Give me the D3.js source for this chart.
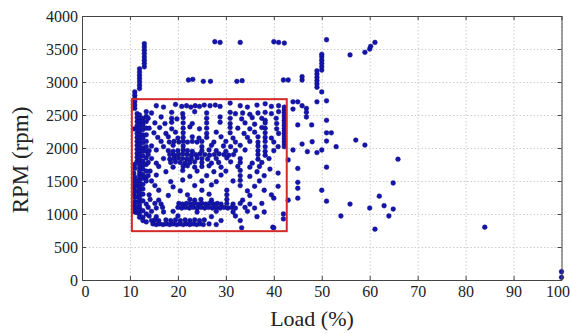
<!DOCTYPE html>
<html>
<head>
<meta charset="utf-8">
<script src="https://d3js.org/d3.v7.min.js"></script>
<style>
  body { margin: 0; background: #fff; }
  text { font-family: "Liberation Serif", "Times New Roman", serif; fill: #222; }
  .grid line { stroke: #cdcdcd; stroke-dasharray: 1.5 2; }
  .grid path { display: none; }
  .axis path, .axis line { stroke: #444; }
</style>
</head>
<body>
<div id="chart"></div>
<script>
// ---- data (Load %, RPM) ----
const xTicks = [0, 10, 20, 30, 40, 50, 60, 70, 80, 90, 100];
const yTicks = [0, 500, 1000, 1500, 2000, 2500, 3000, 3500, 4000];

// highlighted operating window
const boxLoad = [10.4, 42.7];
const boxRpm = [740, 2740];

// left columns near 11-13 % load
const leftColumns = [
  [11.0,2850],[11.0,2800],[11.0,2750],[11.0,2700],[11.0,2650],[11.0,2600],[10.9,2290],
  [11.0,1750],[11.0,1690],[10.8,1620],[11.0,1560],[10.8,1500],[11.0,1450],[10.8,1400],
  [11.0,1350],[10.8,1300],[11.0,1250],[11.0,1180],[10.9,1130],[11.0,1080],[11.0,1030],
  [11.5,2520],[11.5,2460],[11.5,2400],[11.5,2340],[11.5,2280],[11.5,2220],[11.5,2160],[11.5,2100],
  [11.5,2040],[11.5,1980],[11.5,1920],[11.5,1860],[11.5,1800],[11.5,1500],[11.5,1420],[11.5,1340],
  [11.5,1260],[11.5,1180],[11.5,1100],[11.5,1020],
  [12.0,2900],[12.0,2950],[12.0,3000],[12.0,3050],[12.0,3100],[12.0,3150],[12.0,3200],
  [13.0,3230],[13.0,3280],[13.0,3330],[13.0,3380],[13.0,3430],[13.0,3480],[13.0,3530],[13.0,3580],
  [12.0,2500],[12.0,2450],[12.0,2400],[12.0,2350],[12.0,2300],[12.0,2250],[12.0,2200],[12.0,2150],
  [12.0,2100],[12.0,2050],[12.0,2000],[12.0,1950],[12.0,1900],[12.0,1850],[12.0,1800],[12.0,1750],
  [12.0,1700],[12.0,1650],[12.0,1600],[12.0,1550],[12.0,1500],[12.0,1450],[12.0,1400],[12.0,1350],
  [12.0,1300],[12.0,1250],[12.0,1200],[12.0,1150],[12.0,1100],[12.0,1050],[12.0,1000],[12.0,950],
  [12.7,2450],[12.7,2400],[12.7,2350],[12.7,2280],[12.7,2200],[12.7,2150],[12.7,2080],[12.7,2000],
  [12.7,1950],[12.7,1880],[12.7,1800],[12.7,1740],[12.7,1680],[12.7,1600],[12.7,1540],[12.7,1450],
  [12.7,1380],[12.7,1300],[12.7,1200],[12.7,1050],[12.7,950],[12.7,900],
  [13.4,2550],[13.4,2480],[13.4,2400],[13.4,2300],[13.4,2200],[13.4,2100],[13.4,2020],[13.4,1950],
  [13.4,1850],[13.4,1750],[13.4,1650],[13.4,1560],[13.4,1500],[13.4,1150],[13.4,1000],[13.4,880]
];

// upper band 2100-2700 rpm
const upperBand = [
  [15.5,2640],[17.0,2620],[19.5,2660],[20.8,2630],[21.8,2640],[22.7,2620],[23.6,2640],[24.5,2630],
  [25.5,2650],[26.7,2640],[27.8,2650],[28.8,2630],[30.9,2680],[33.0,2640],[34.5,2620],[36.5,2650],
  [38.2,2670],[39.5,2630],[41.0,2640],
  [14.5,2530],[18.7,2540],[21.0,2520],[23.5,2550],[26.0,2530],[30.9,2540],[32.0,2520],[33.5,2530],
  [35.0,2510],[36.7,2530],[38.2,2540],[39.5,2520],[41.0,2550],
  [13.8,2450],[16.5,2470],[18.7,2450],[19.8,2440],[21.1,2460],[26.0,2450],[28.8,2470],[30.9,2450],
  [33.3,2440],[35.5,2460],[37.5,2450],[38.2,2420],[40.5,2450],
  [15.2,2380],[17.3,2370],[18.7,2390],[21.1,2380],[23.0,2370],[26.0,2380],[28.8,2390],[30.9,2370],
  [34.0,2380],[36.0,2360],[38.2,2380],[40.6,2370],
  [14.0,2300],[16.2,2310],[18.7,2290],[21.1,2300],[22.5,2320],[24.5,2290],[26.0,2300],[30.9,2310],
  [32.5,2300],[35.0,2290],[37.5,2310],[38.2,2300],[40.6,2290],
  [15.0,2230],[17.5,2220],[19.5,2240],[21.1,2230],[26.0,2220],[28.0,2240],[30.9,2230],[33.8,2220],
  [36.0,2240],[38.2,2230],[41.0,2220],
  [15.8,2160],[18.0,2170],[20.0,2150],[21.1,2160],[23.0,2170],[24.4,2150],[26.0,2160],[29.0,2170],
  [31.5,2150],[34.5,2160],[36.7,2170],[38.2,2160],[39.5,2150],
  [16.5,2100],[18.2,2090],[19.2,2100],[20.2,2090],[21.1,2100],[22.0,2090],[23.0,2100],[24.0,2090],
  [25.0,2100],[27.5,2090],[30.0,2100],[32.0,2090],[35.0,2100],[36.7,2090],[38.2,2100],[40.0,2090],
  [42.2,2620],[42.2,2580],[42.2,2540],[42.2,2500],[42.2,2460],[42.2,2420],[42.2,2380],[42.2,2340],
  [42.2,2300],[42.2,2260],[42.2,2220],[42.2,2180],[42.2,2140],[42.2,2100],[42.2,2060],[42.2,2020]
];

// middle band 1250-2050 rpm
const middleBand = [
  [14.5,2030],[17.0,2020],[19.0,2040],[21.1,2030],[25.0,2020],[27.0,2040],[29.5,2030],[31.0,2020],
  [33.0,2040],[36.7,2030],[38.2,2020],[40.9,2020],
  [14.0,1960],[15.5,1970],[18.0,1960],[19.0,1950],[20.0,1960],[21.1,1970],[22.0,1960],[23.0,1950],
  [25.0,1960],[26.5,1970],[28.0,1960],[30.0,1950],[32.0,1960],[34.0,1970],[36.7,1960],[38.2,1950],
  [40.0,1960],
  [13.8,1900],[18.3,1900],[19.2,1890],[20.1,1900],[21.0,1910],[21.9,1900],[22.8,1890],[23.7,1900],
  [24.6,1910],[25.6,1900],[26.6,1890],[27.6,1900],[28.6,1910],[29.6,1900],[30.6,1890],[31.6,1900],
  [36.7,1900],[38.2,1890],
  [14.5,1840],[17.0,1840],[18.3,1830],[19.2,1840],[20.1,1850],[21.0,1840],[21.9,1830],[22.8,1840],
  [24.0,1850],[25.0,1840],[26.2,1830],[28.0,1840],[30.2,1850],[33.0,1840],[36.7,1830],[39.0,1840],
  [13.8,1780],[15.5,1770],[18.5,1780],[19.5,1790],[20.5,1780],[21.5,1770],[22.5,1780],[23.5,1790],
  [25.0,1780],[27.0,1770],[28.5,1780],[31.0,1790],[33.0,1780],[35.5,1770],[37.5,1780],
  [16.0,1720],[19.0,1710],[21.1,1720],[22.0,1730],[23.5,1710],[25.0,1720],[26.5,1730],[29.0,1710],
  [32.5,1720],[33.0,1660],[35.0,1710],[37.0,1720],
  [14.2,1650],[17.5,1640],[21.0,1660],[24.0,1650],[27.5,1640],[30.0,1650],[36.5,1640],[39.2,1680],
  [13.8,1580],[15.5,1590],[22.5,1570],[26.0,1580],[29.0,1590],[33.0,1580],[35.0,1570],[38.0,1580],
  [40.9,1620],
  [14.5,1500],[18.5,1490],[21.0,1515],[25.0,1500],[28.0,1490],[31.5,1500],[33.0,1510],[37.0,1500],
  [15.2,1430],[19.0,1410],[23.5,1430],[27.0,1440],[33.0,1430],[36.0,1420],[40.9,1420],
  [16.0,1360],[20.5,1350],[25.0,1360],[30.2,1360],[34.5,1350],[38.0,1360],
  [14.0,1290],[18.0,1280],[22.0,1290],[26.5,1300],[30.2,1290],[35.0,1280],[39.5,1290]
];

// lower band 750-1250 rpm
const lowerBand = [
  [14.2,1220],[16.0,1210],[22.5,1220],[23.5,1210],[24.8,1220],[27.0,1210],[30.2,1220],[33.5,1210],
  [40.0,1240],
  [15.2,1160],[16.5,1150],[20.2,1160],[21.0,1150],[21.8,1160],[22.6,1150],[23.4,1160],[24.2,1150],
  [25.0,1160],[25.8,1150],[26.6,1160],[27.4,1150],[28.2,1160],[29.0,1150],[30.2,1160],[31.5,1150],
  [33.0,1160],[35.0,1150],[37.5,1160],
  [13.8,1100],[15.5,1090],[16.8,1100],[20.0,1100],[20.8,1090],[21.6,1100],[22.4,1090],[23.2,1100],
  [24.0,1090],[24.8,1100],[25.6,1090],[26.4,1100],[27.2,1090],[28.0,1100],[28.8,1090],[29.6,1100],
  [30.4,1090],[31.2,1100],[32.0,1090],[34.0,1100],[36.0,1090],
  [14.5,1040],[17.0,1030],[19.0,1040],[24.0,1030],[28.0,1040],[31.5,1030],[34.5,1040],[38.0,1030],
  [14.0,970],[15.5,960],[20.0,970],[27.0,960],[32.0,970],[36.5,960],[42.0,1000],[42.0,925],
  [14.5,900],[15.2,910],[16.0,900],[17.5,910],[18.5,900],[19.5,910],[20.5,900],[21.5,910],
  [22.5,900],[23.5,910],[24.5,900],[25.5,910],[29.0,900],[33.0,900],
  [14.8,850],[15.5,840],[16.2,850],[16.9,840],[17.6,850],[18.3,840],[19.0,850],[19.7,840],
  [20.4,850],[21.1,840],[21.8,850],[22.5,840],[23.2,850],[23.9,840],[24.6,850],[25.3,840],
  [26.5,850],[28.0,840],
  [33.3,790],[39.8,800],[40.0,790]
];

// points above the window and beyond 43 % load
const outerPoints = [
  [22.2,3030],[23.1,3040],[25.3,3010],[26.8,3010],[32.3,3010],[33.4,3020],[42.0,3030],[43.0,3030],
  [45.9,3030],[45.9,3080],
  [27.7,3610],[28.8,3600],[33.0,3600],[40.0,3610],[41.0,3600],[42.2,3590],
  [49.0,2920],[49.0,2970],[49.0,3020],[49.0,3070],[49.0,3120],[49.0,3170],
  [50.0,3180],[50.0,3230],[50.0,3280],[50.0,3330],[50.0,3380],[50.0,3420],
  [51.0,3640],[55.9,3410],[59.0,3450],[60.0,3500],[60.2,3540],[61.1,3600],
  [50.0,2850],[51.0,2715],[49.0,2700],
  [44.0,2700],[45.0,2700],[45.9,2640],[46.8,2600],[46.8,2540],[46.8,2470],[44.0,2590],
  [45.0,2350],[47.9,2350],[51.0,2420],[51.0,2230],[52.0,2230],[57.1,2120],[59.0,2045],[53.0,2020],
  [48.0,2095],[45.9,2060],[44.0,1970],[47.0,1945],[49.0,1930],[50.0,1970],[51.0,2105],[43.0,1820],
  [65.9,1830],[51.0,1710],[45.0,1690],[45.0,1480],[45.0,1390],[50.0,1360],[64.9,1470],
  [43.0,1210],[45.0,1240],[51.0,1195],[55.9,1150],[62.0,1270],[63.0,1125],[60.0,1090],[64.9,1075],
  [64.0,970],[54.0,970],[61.1,770],[84.0,800],[100.0,125],[100.0,40]
];

const points = [].concat(leftColumns, upperBand, middleBand, lowerBand, outerPoints);

// ---- layout ----
const W = 570, H = 334;
const x = d3.scaleLinear().domain([0, 100]).range([82, 561.5]);
const y = d3.scaleLinear().domain([0, 4000]).range([280, 16]);
const plotL = x(0), plotR = x(100), plotT = y(4000), plotB = y(0);

const svg = d3.select('#chart').append('svg')
  .attr('width', W)
  .attr('height', H);

svg.append('rect').attr('width', W).attr('height', H).attr('fill', '#fff');

// grid
svg.append('g')
  .attr('class', 'grid')
  .attr('transform', `translate(0, ${plotB})`)
  .call(d3.axisBottom(x).tickValues(xTicks).tickSize(-(plotB - plotT)).tickFormat(''));
svg.append('g')
  .attr('class', 'grid')
  .attr('transform', `translate(${plotL}, 0)`)
  .call(d3.axisLeft(y).tickValues(yTicks).tickSize(-(plotR - plotL)).tickFormat(''));

// points
svg.append('g')
  .selectAll('circle')
  .data(points)
  .enter()
  .append('circle')
  .attr('cx', d => x(d[0]))
  .attr('cy', d => y(d[1]))
  .attr('r', 2.4)
  .attr('fill', '#1414b0')
  .attr('stroke', '#0a0a70')
  .attr('stroke-width', 0.4);

// red window
svg.append('rect')
  .attr('x', x(boxLoad[0]))
  .attr('y', y(boxRpm[1]))
  .attr('width', x(boxLoad[1]) - x(boxLoad[0]))
  .attr('height', y(boxRpm[0]) - y(boxRpm[1]))
  .attr('fill', 'none')
  .attr('stroke', '#d42a2a')
  .attr('stroke-width', 2);

// axes (MATLAB box style, ticks inward)
const xAxis = svg.append('g')
  .attr('class', 'axis')
  .attr('transform', `translate(0, ${plotB})`)
  .call(d3.axisBottom(x).tickValues(xTicks).tickFormat(d3.format('d'))
    .tickSizeInner(-4).tickSizeOuter(0).tickPadding(6));
xAxis.selectAll('text')
  .style('font-size', '16px')
  .attr('dx', d => d === 0 ? 3 : (d === 100 ? -4 : 0));

const yAxis = svg.append('g')
  .attr('class', 'axis')
  .attr('transform', `translate(${plotL}, 0)`)
  .call(d3.axisLeft(y).tickValues(yTicks).tickFormat(d3.format('d'))
    .tickSizeInner(-4).tickSizeOuter(0).tickPadding(4));
yAxis.selectAll('text').style('font-size', '16px');

svg.append('g')
  .attr('class', 'axis')
  .attr('transform', `translate(0, ${plotT})`)
  .call(d3.axisTop(x).tickValues(xTicks).tickSizeInner(-4).tickSizeOuter(0).tickFormat(''));
svg.append('g')
  .attr('class', 'axis')
  .attr('transform', `translate(${plotR}, 0)`)
  .call(d3.axisRight(y).tickValues(yTicks).tickSizeInner(-4).tickSizeOuter(0).tickFormat(''));

// axis titles
svg.append('text')
  .attr('x', 312)
  .attr('y', 326)
  .attr('text-anchor', 'middle')
  .style('font-size', '22px')
  .text('Load (%)');

svg.append('text')
  .attr('transform', 'translate(28, 160) rotate(-90)')
  .attr('text-anchor', 'middle')
  .style('font-size', '23px')
  .text('RPM (rpm)');
</script>
</body>
</html>
